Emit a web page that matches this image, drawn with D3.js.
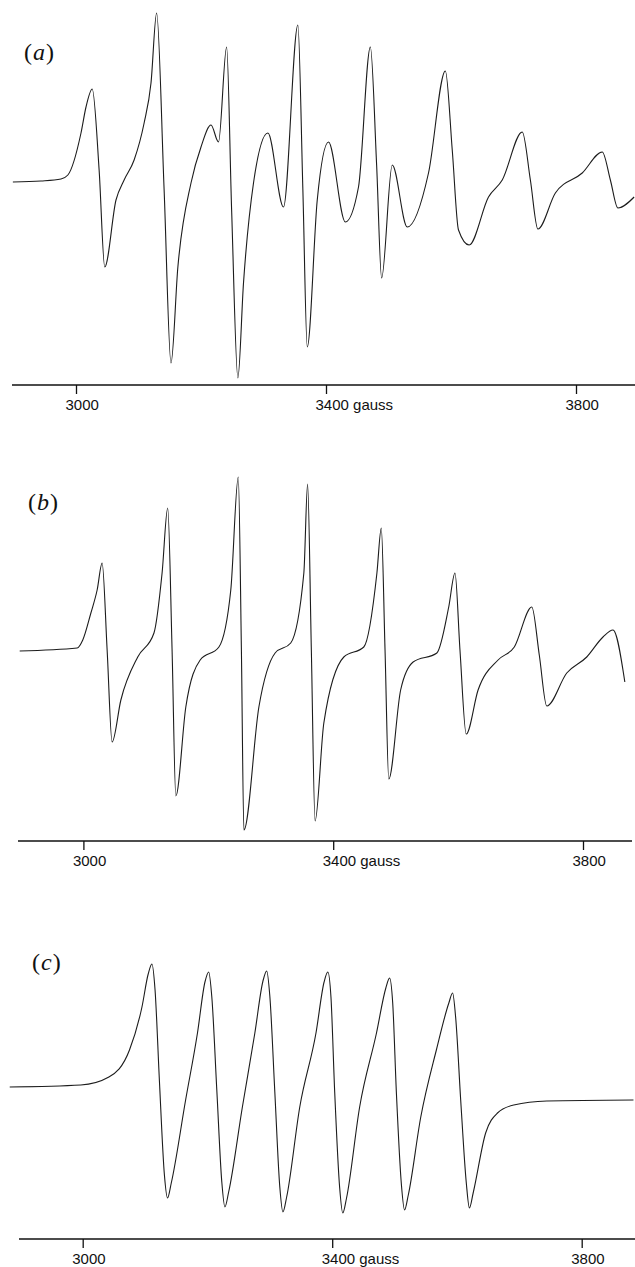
<!DOCTYPE html>
<html>
<head>
<meta charset="utf-8">
<script src="https://cdn.jsdelivr.net/npm/d3@7"></script>
<style>
  html, body { margin: 0; padding: 0; background: #fff; }
  svg { display: block; }
</style>
</head>
<body>
<svg id="chart" width="635" height="1267"></svg>
<script>
// ---- data (field in gauss, derivative signal in arbitrary units) ----
const fieldA = [2899,2944,2976,2987,3008,3016,3026,3037,3046,3064,3077,3093,3109,3120,3129,3141,3152,3163,3184,3200,3216,3228,3241,3249,3259,3268,3284,3307,3332,3355,3363,3370,3386,3404,3431,3452,3471,3481,3489,3506,3530,3564,3591,3602,3612,3629,3660,3682,3714,3727,3739,3767,3810,3842,3855,3867,3893];
const signalA = [-1,0,2,6,48,74,92,11,-86,-19,1,21,58,98,168,-9,-182,-86,-2,34,56,39,134,-29,-197,-102,-2,48,-26,156,-9,-166,-19,39,-41,-6,134,16,-97,16,-46,8,110,31,-49,-64,-16,1,49,1,-48,-12,8,29,1,-27,-16];

const fieldB = [2898,2990,2999,3012,3022,3030,3038,3046,3060,3087,3113,3126,3135,3142,3148,3164,3187,3217,3236,3248,3253,3257,3281,3307,3332,3353,3359,3365,3371,3385,3417,3449,3470,3477,3483,3489,3508,3528,3566,3585,3595,3603,3613,3632,3664,3690,3718,3730,3742,3774,3806,3832,3848,3867];
const signalB = [-1,2,10,37,60,87,0,-92,-50,-7,17,77,142,0,-146,-57,-10,3,60,173,0,-180,-57,-3,7,77,166,0,-171,-73,-7,3,77,122,0,-129,-40,-12,-3,43,77,0,-84,-40,-10,3,43,-5,-56,-23,-7,13,20,-32];

const fieldC = [2883,2997,3042,3075,3095,3105,3111,3116,3123,3131,3136,3142,3165,3184,3196,3202,3207,3215,3223,3228,3234,3256,3276,3289,3295,3300,3308,3316,3321,3327,3348,3374,3387,3393,3398,3404,3412,3417,3423,3444,3471,3486,3492,3497,3503,3511,3516,3522,3542,3567,3587,3593,3598,3606,3615,3620,3626,3646,3665,3691,3744,3883];
const signalC = [3,5,13,40,83,116,126,100,9,-85,-108,-93,-10,57,108,118,93,0,-92,-117,-102,-17,57,109,119,94,-2,-97,-122,-107,-17,57,108,118,93,-2,-98,-123,-108,-17,57,102,112,87,-4,-95,-120,-105,-27,40,87,97,72,-10,-93,-118,-103,-43,-23,-15,-11,-10];

const tickValues = [3000, 3400, 3800];
const tickUnit = "gauss";
const panelLetters = ["a", "b", "c"];

// ---- layout ----
const layout = [
  { x0: 76,   x1: 576,   base: 181,  axisY: 385,  lineStart: 12, lineEnd: 635, lx: 24, ly: 60 },
  { x0: 83.4, x1: 583,   base: 650,  axisY: 841,  lineStart: 18, lineEnd: 632, lx: 28, ly: 510 },
  { x0: 82.7, x1: 581.7, base: 1090, axisY: 1239, lineStart: 19, lineEnd: 635, lx: 32, ly: 970 }
];
const seriesList = [
  { field: fieldA, signal: signalA },
  { field: fieldB, signal: signalB },
  { field: fieldC, signal: signalC }
];

const svg = d3.select("#chart");

layout.forEach((L, i) => {
  const S = seriesList[i];
  const x = d3.scaleLinear().domain([3000, 3800]).range([L.x0, L.x1]);
  const y = d3.scaleLinear().domain([-200, 200]).range([L.base + 200, L.base - 200]);
  const g = svg.append("g");

  const pts = S.field.map((f, k) => [f, S.signal[k]]);
  const line = d3.line()
    .x(d => x(d[0]))
    .y(d => y(d[1]))
    .curve(d3.curveMonotoneX);

  g.append("path")
    .datum(pts)
    .attr("d", line)
    .attr("fill", "none")
    .attr("stroke", "#1c1c1c")
    .attr("stroke-width", 1.1)
    .attr("stroke-linejoin", "round");

  // axis
  const axisG = g.append("g").attr("transform", `translate(0,${L.axisY})`);
  const axis = d3.axisBottom(x).tickValues(tickValues).tickSize(9).tickPadding(4).tickFormat(d3.format("d"));
  axisG.call(axis);
  axisG.select(".domain").remove();
  axisG.append("line")
    .attr("x1", L.lineStart).attr("x2", L.lineEnd)
    .attr("y1", 0).attr("y2", 0)
    .attr("stroke", "#111").attr("stroke-width", 1.6);
  axisG.selectAll(".tick line").attr("stroke", "#111").attr("stroke-width", 1.3);
  axisG.selectAll(".tick text")
    .attr("font-family", "'Liberation Sans', Arial, sans-serif")
    .attr("font-size", 15)
    .attr("fill", "#111")
    .attr("text-anchor", "start")
    .attr("x", -11)
    .attr("y", 14)
    .attr("dy", "0.71em")
    .text(d => d === 3400 ? `${d} ${tickUnit}` : `${d}`);

  // panel letter
  const t = g.append("text")
    .attr("x", L.lx).attr("y", L.ly)
    .attr("font-family", "'Liberation Serif', 'Times New Roman', serif")
    .attr("font-size", 24)
    .attr("fill", "#111");
  t.append("tspan").text("(");
  t.append("tspan").attr("font-style", "italic").attr("dx", 1).text(panelLetters[i]);
  t.append("tspan").attr("dx", 1).text(")");
});
</script>
</body>
</html>
